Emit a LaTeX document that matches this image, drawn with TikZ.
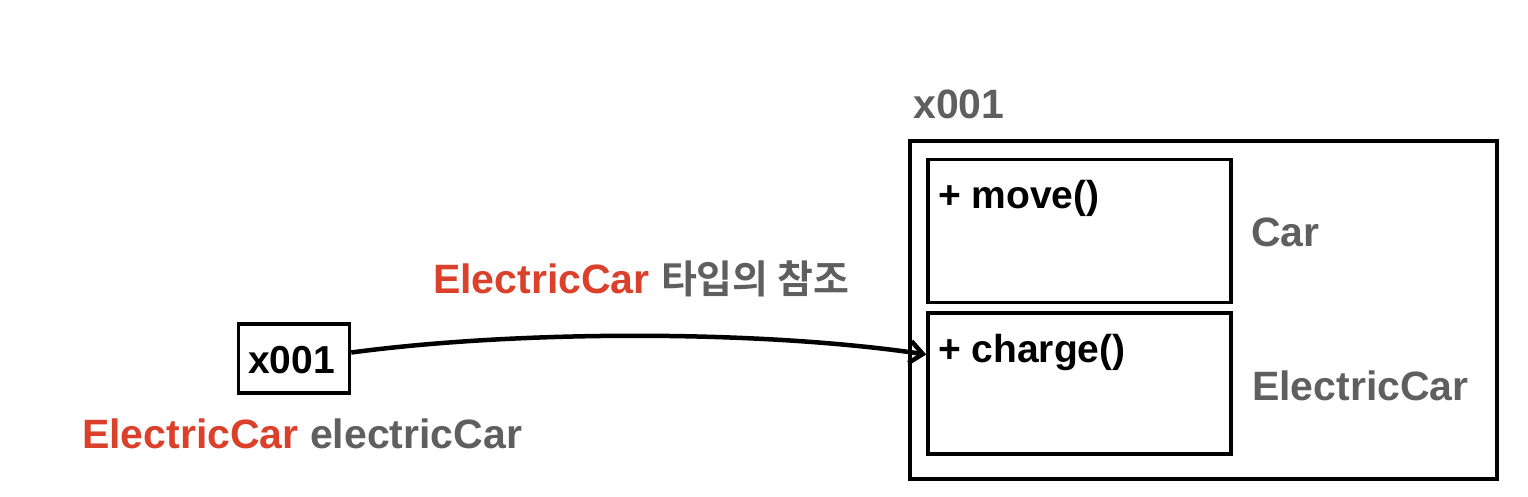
\documentclass[tikz,border=0pt]{standalone}
\usepackage{fontspec}
\setmainfont{Liberation Sans}
\newfontfamily\kr{Noto Sans CJK KR}[BoldFont={Noto Sans CJK KR Bold}]
\usetikzlibrary{arrows.meta}
\definecolor{redc}{RGB}{219,64,43}
\definecolor{grayc}{RGB}{95,95,95}
\begin{document}
\begin{tikzpicture}[x=1pt,y=-1pt,
  box/.style={draw=black,line width=3.5pt,rectangle,inner sep=0pt},
  lbl/.style={inner sep=0pt,anchor=base west,font=\fontsize{41}{44}\selectfont\bfseries},
  mtxt/.style={inner sep=0pt,anchor=base west,font=\fontsize{39}{42}\selectfont\bfseries}]
\useasboundingbox[fill=white] (0,0) rectangle (1528,496);
% boxes
\node[box,minimum width=587pt,minimum height=338pt] (outer) at (1203.5,310) {};
\node[box,minimum width=303pt,minimum height=143pt] (carbox) at (1079.5,231) {};
\node[box,minimum width=303pt,minimum height=141pt] (ecbox) at (1079.5,383.5) {};
\node[box,minimum width=111pt,minimum height=69pt] (xbox) at (294,358.5) {};
% texts
\node[mtxt] (xval) at (248,373) {x001};
\node[lbl,text=grayc] (addr) at (913,118) {x001};
\node[mtxt] (move) at (938,208) {+ move()};
\node[mtxt] (charge) at (938,362) {+ charge()};
\node[lbl,text=grayc] (carlbl) at (1251,246) {Car};
\node[lbl,text=grayc] (eclbl) at (1252,400) {ElectricCar};
\node[lbl] (varlbl) at (82,448) {\textcolor{redc}{ElectricCar} \textcolor{grayc}{electricCar}};
\node[lbl] (reflbl) at (433,293) {\textcolor{redc}{ElectricCar} \textcolor{grayc}{\kr\fontsize{39}{44}\selectfont 타입의 참조}};
% arrow
\draw[line width=4.5pt,-{Straight Barb[length=13pt,width=22pt,line width=4.5pt]}]
  ([yshift=6pt]xbox.east) .. controls (520,330) and (760,330) .. ([yshift=29pt]ecbox.west);
\end{tikzpicture}
\end{document}
